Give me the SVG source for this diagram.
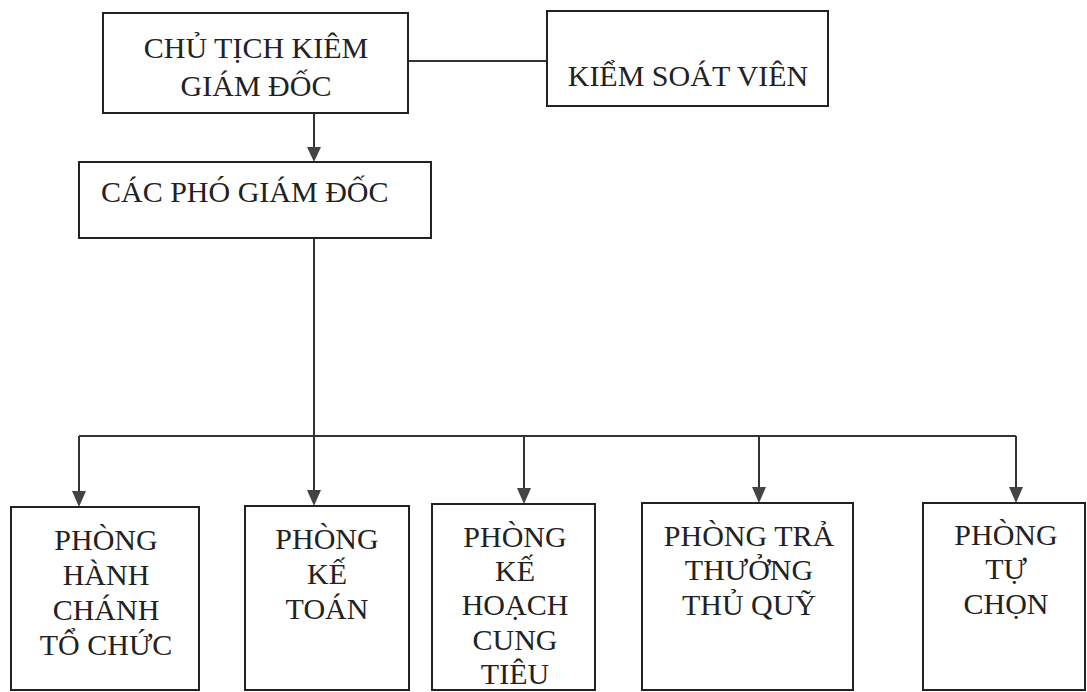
<svg xmlns="http://www.w3.org/2000/svg" width="1087" height="692" viewBox="0 0 1087 692">
<style>
.box{fill:#fff;stroke:#222;stroke-width:2}
.t{font-family:"Liberation Serif","Times New Roman",serif;font-size:30px;fill:#222}
.c{text-anchor:middle}
.ln{fill:none;stroke:#333;stroke-width:2}
.ah{fill:#444}
</style>
<rect width="1087" height="692" fill="#fff"/>
<g id="connectors">
<path class="ln" d="M408,61 H547"/>
<path class="ln" d="M314,113 V148"/>
<path class="ah" d="M307,147 L321,147 L314,162 Z"/>
<path class="ln" d="M314,238 V491"/>
<path class="ah" d="M307,490 L321,490 L314,506 Z"/>
<path class="ln" d="M79,436 H1016"/>
<path class="ln" d="M79,436 V492"/>
<path class="ah" d="M72,491 L86,491 L79,507 Z"/>
<path class="ln" d="M524,436 V489"/>
<path class="ah" d="M517,488 L531,488 L524,504 Z"/>
<path class="ln" d="M759,436 V488"/>
<path class="ah" d="M752,487 L766,487 L759,503 Z"/>
<path class="ln" d="M1016,436 V488"/>
<path class="ah" d="M1009,487 L1023,487 L1016,503 Z"/>
</g>
<g id="chu-tich">
<rect class="box" x="103" y="13" width="305" height="100"/>
<text class="t c" x="256" y="58">CHỦ TỊCH KIÊM</text>
<text class="t c" x="256" y="96">GIÁM ĐỐC</text>
</g>
<g id="kiem-soat-vien">
<rect class="box" x="547" y="11" width="281" height="95"/>
<text class="t c" x="688" y="86">KIỂM SOÁT VIÊN</text>
</g>
<g id="pho-giam-doc">
<rect class="box" x="79" y="162" width="352" height="76"/>
<text class="t" x="101" y="202">CÁC PHÓ GIÁM ĐỐC</text>
</g>
<g id="hanh-chanh">
<rect class="box" x="11" y="507" width="188" height="183"/>
<text class="t c" x="106" y="550">PHÒNG</text>
<text class="t c" x="106" y="585">HÀNH</text>
<text class="t c" x="106" y="620">CHÁNH</text>
<text class="t c" x="106" y="655">TỔ CHỨC</text>
</g>
<g id="ke-toan">
<rect class="box" x="245" y="506" width="164" height="184"/>
<text class="t c" x="327" y="549">PHÒNG</text>
<text class="t c" x="327" y="584">KẾ</text>
<text class="t c" x="327" y="619">TOÁN</text>
</g>
<g id="ke-hoach">
<rect class="box" x="432" y="504" width="163" height="186"/>
<text class="t c" x="515" y="547">PHÒNG</text>
<text class="t c" x="515" y="581">KẾ</text>
<text class="t c" x="515" y="615">HOẠCH</text>
<text class="t c" x="515" y="650">CUNG</text>
<text class="t c" x="515" y="684">TIÊU</text>
</g>
<g id="tra-thuong">
<rect class="box" x="642" y="503" width="211" height="187"/>
<text class="t c" x="749" y="546">PHÒNG TRẢ</text>
<text class="t c" x="749" y="580">THƯỞNG</text>
<text class="t c" x="749" y="615">THỦ QUỸ</text>
</g>
<g id="tu-chon">
<rect class="box" x="923" y="503" width="162" height="187"/>
<text class="t c" x="1006" y="545">PHÒNG</text>
<text class="t c" x="1006" y="579">TỰ</text>
<text class="t c" x="1006" y="614">CHỌN</text>
</g>
</svg>
